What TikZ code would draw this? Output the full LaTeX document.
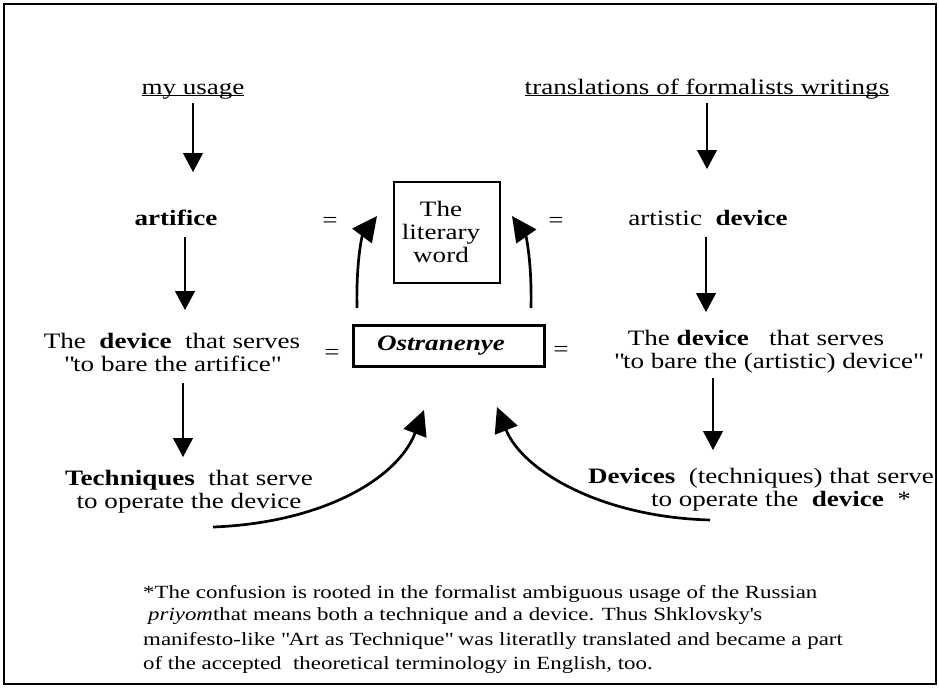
\documentclass[tikz,border=0pt]{standalone}
\usepackage{fontspec}
\setmainfont{Liberation Serif}[FakeStretch=1.23]
\usetikzlibrary{arrows.meta}
\newcommand\tightul[1]{\underline{\smash{#1}}}
\begin{document}
\begin{tikzpicture}[x=1pt,y=-1pt,
  txt/.style={font=\fontsize{22}{23}\selectfont, inner sep=0pt, align=center},
  note/.style={font=\fontsize{18.6}{25}\selectfont, inner sep=0pt, anchor=base west},
  stem/.style={line width=1.2pt, -{Triangle[width=20pt,length=19pt]}},
  sweep/.style={line width=2.7pt, -{Triangle[width=24pt,length=25pt]}},
  framebox/.style={draw, line width=2.2pt, inner sep=0pt},
]
\useasboundingbox (0,0) rectangle (939,688);
% outer frame
\draw[line width=2.8pt] (4,4) rectangle (936,684);

% column headings
\node[txt, anchor=base] (usage) at (193,94) {\tightul{my usage}};
\node[txt, anchor=base] (trans) at (707,94) {\tightul{translations of formalists writings}};

% first row
\node[txt, anchor=base] (artifice) at (176,225) {\textbf{artifice}};
\node[txt, anchor=base] (eqa) at (330,227) {=};
\node[framebox, minimum width=106pt, minimum height=101pt] (word) at (447,232.5) {};
\node[txt] (wordtxt) at (441,232) {The\\literary\\word};
\node[txt, anchor=base] (eqb) at (556,227) {=};
\node[txt, anchor=base] (artdev) at (708,225) {artistic~ \textbf{device}};

% second row
\node[txt] (bareL) at (172,352) {The~ \textbf{device}~ that serves\\\textquotedbl to bare the artifice\textquotedbl};
\node[txt] (eqc) at (332,354) {=};
\node[framebox, minimum width=191pt, minimum height=41pt] (ostr) at (449,346) {};
\node[txt] (ostrtxt) at (441,346) {\textbf{\textit{Ostranenye}}};
\node[txt] (eqd) at (561,351) {=};
\node[txt] (bareR) at (756,352) {The \textbf{device}~~ that serves\\\hspace*{24pt}\textquotedbl to bare the (artistic) device\textquotedbl};

% third row
\node[txt] (techL) at (189,492) {\textbf{Techniques}~ that serve\\to operate the device};
\node[txt] (techR) at (761,490) {\textbf{Devices}~ (techniques) that serve\\\hspace*{40pt}to operate the~ \textbf{device}~ *};

% arrow end points
\coordinate (a1) at (193,103);  \coordinate (b1) at (193,172);
\coordinate (a2) at (707,103);  \coordinate (b2) at (707,169);
\coordinate (a3) at (185,237);  \coordinate (b3) at (185,310);
\coordinate (a4) at (706,237);  \coordinate (b4) at (706,312);
\coordinate (a5) at (183,383);  \coordinate (b5) at (183,457);
\coordinate (a6) at (713,378);  \coordinate (b6) at (713,450);

\draw[stem] (a1) -- (b1);
\draw[stem] (a2) -- (b2);
\draw[stem] (a3) -- (b3);
\draw[stem] (a4) -- (b4);
\draw[stem] (a5) -- (b5);
\draw[stem] (a6) -- (b6);

% curved arrows towards the centre
\coordinate (c1) at (357,308);  \coordinate (d1) at (377,216);
\coordinate (c2) at (531,308);  \coordinate (d2) at (512,216);
\coordinate (c3) at (213,527);  \coordinate (d3) at (424,410);
\coordinate (c4) at (710,520);  \coordinate (d4) at (497,407);

\draw[sweep] (c1) .. controls (356,262) and (362,236) .. (d1);
\draw[sweep] (c2) .. controls (532,262) and (526,236) .. (d2);
\draw[sweep] (c3) .. controls (320,523) and (397,480) .. (d3);
\draw[sweep] (c4) .. controls (600,517) and (522,470) .. (d4);

% footnote
\node[note] (fn1) at (143,598) {*The confusion is rooted in the formalist ambiguous usage of the Russian};
\node[note] (fn2) at (148,620) {\textit{priyom}that means both a technique and a device. Thus Shklovsky\textquotesingle s};
\node[note] (fn3) at (143,645) {manifesto-like \textquotedbl Art as Technique\textquotedbl{} was literatlly translated and became a part};
\node[note] (fn4) at (143,669) {of the accepted~ theoretical terminology in English, too.};
\end{tikzpicture}
\end{document}
